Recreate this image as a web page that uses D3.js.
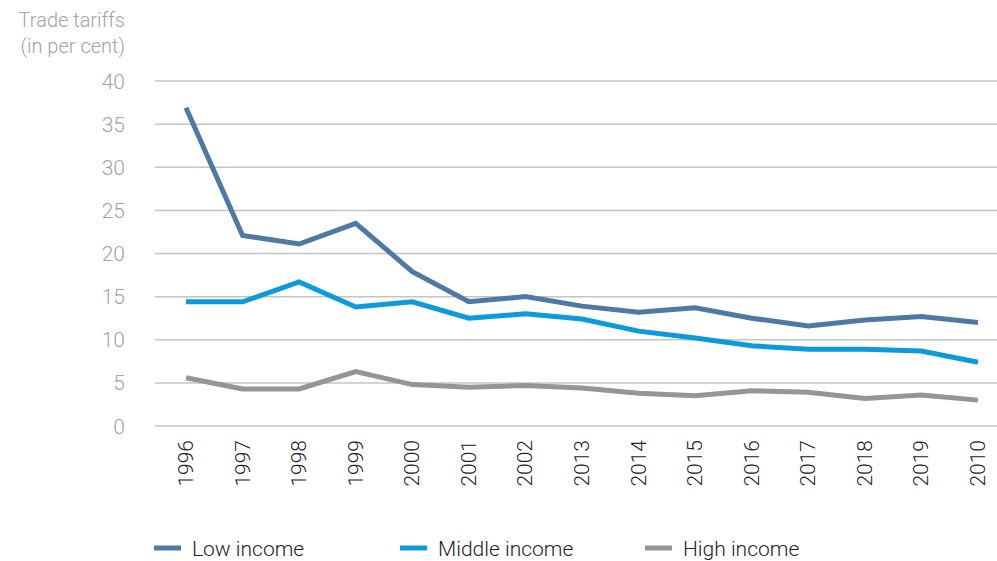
<!DOCTYPE html>
<html><head><meta charset="utf-8">
<script src="https://cdn.jsdelivr.net/npm/d3@7"></script>
<style>body{margin:0;background:#fff}svg{display:block}text{font-family:Roboto,"Liberation Sans",sans-serif;font-weight:300}</style>
</head><body><svg id="c" width="997" height="561"></svg>
<script>
const categories = ["1996","1997","1998","1999","2000","2001","2002","2013","2014","2015","2016","2017","2018","2019","2010"];
const lowIncome = [36.9,22.1,21.1,23.5,17.9,14.4,15.0,13.9,13.2,13.7,12.5,11.6,12.3,12.7,12.0];
const middleIncome = [14.4,14.4,16.7,13.8,14.4,12.5,13.0,12.4,11.0,10.2,9.3,8.9,8.9,8.7,7.4];
const highIncome = [5.6,4.3,4.3,6.3,4.8,4.5,4.7,4.4,3.8,3.5,4.1,3.9,3.2,3.6,3.0];
const yTicks = [0,5,10,15,20,25,30,35,40];
const seriesNames = ["Low income","Middle income","High income"];
const seriesColors = ["#4f79a5","#0b9bdb","#939598"];

const svg = d3.select("#c");
const x = d3.scalePoint().domain(categories).range([186,978]);
const y = d3.scaleLinear().domain([0,40]).range([426,81]);

svg.append("g").selectAll("line").data(yTicks).join("line")
  .attr("x1",155).attr("x2",997).attr("y1",d=>y(d)).attr("y2",d=>y(d))
  .attr("stroke","#c4c4c4").attr("stroke-width",1.5);
svg.append("g").selectAll("text").data(yTicks).join("text")
  .attr("x",125).attr("y",d=>y(d)).attr("dy","0.36em").attr("text-anchor","end")
  .attr("fill","#a3a3a3").attr("font-size",21).text(d=>d);
svg.append("text").attr("x",125).attr("y",27).attr("text-anchor","end").attr("fill","#a3a3a3").attr("font-size",20).text("Trade tariffs");
svg.append("text").attr("x",125).attr("y",53).attr("text-anchor","end").attr("fill","#a3a3a3").attr("font-size",20).text("(in per cent)");
svg.append("g").selectAll("text").data(categories).join("text")
  .attr("transform",d=>`translate(${x(d)+7},440) rotate(-90)`)
  .attr("text-anchor","end").attr("fill","#222").attr("font-size",21).text(d=>d);

const data = [lowIncome, middleIncome, highIncome];
const line = d3.line().x((d,i)=>x(categories[i])).y(d=>y(d));
[2,1,0].forEach(k=>{
  svg.append("path").attr("d",line(data[k])).attr("fill","none")
    .attr("stroke",seriesColors[k]).attr("stroke-width",5).attr("stroke-linejoin","miter");
});
const legX = [154,400,645];
seriesNames.forEach((n,k)=>{
  svg.append("line").attr("x1",legX[k]).attr("x2",legX[k]+27).attr("y1",548).attr("y2",548)
    .attr("stroke",seriesColors[k]).attr("stroke-width",5);
  svg.append("text").attr("x",legX[k]+38).attr("y",548).attr("dy","0.36em")
    .attr("fill","#222").attr("font-size",21).text(n);
});
</script></body></html>
